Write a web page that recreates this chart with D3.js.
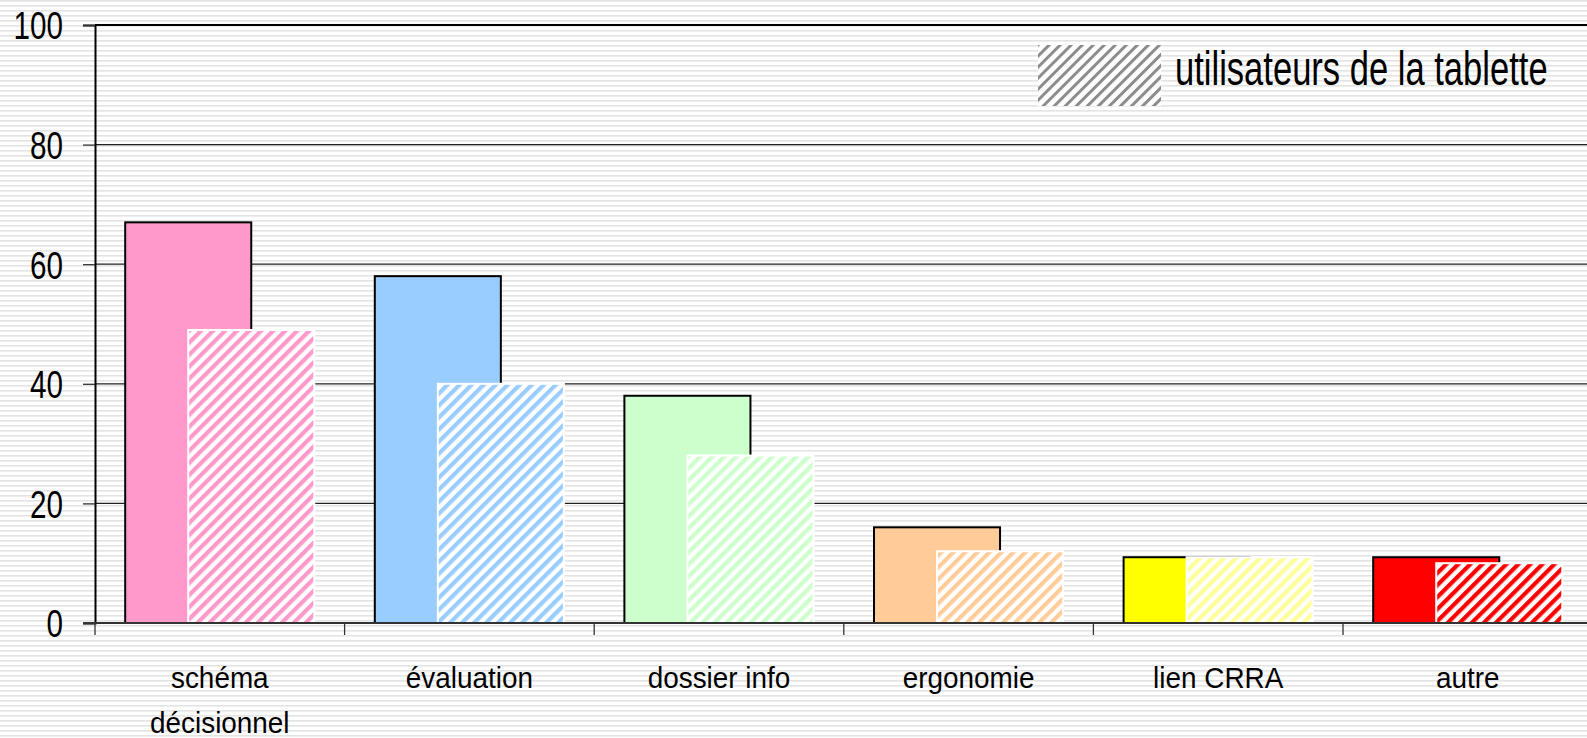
<html>
<head>
<meta charset="utf-8">
<style>
  body { margin: 0; background: #fff; }
  svg { display: block; }
  text { font-family: "Liberation Sans", Arial, sans-serif; fill: #000; }
</style>
</head>
<body>
<svg width="1587" height="738"></svg>
<script src="https://d3js.org/d3.v7.min.js"></script>
<script>

// categories (\n = line break in the axis label)
let categories = ["schéma\ndécisionnel", "évaluation", "dossier info", "ergonomie", "lien CRRA", "autre"]
let allValues = [67, 58, 38, 16, 11, 11]      // solid bars
let tabletValues = [49, 40, 28, 12, 11, 10]   // hatched bars: utilisateurs de la tablette
let barColors = ["#ff99cc", "#99ccff", "#ccffcc", "#ffcc99", "#ffff00", "#ff0000"]
let hatchColors = ["#ff99cc", "#99ccff", "#ccffcc", "#ffcc99", "#ffff99", "#ff0000"]
let yTicks = [0, 20, 40, 60, 80, 100]
let legendLabel = "utilisateurs de la tablette"

let width = 1587
let height = 738
let plot = {left: 95, top: 25, bottom: 623, band: 249.6}

let svg = d3.select("svg")
let defs = svg.append("defs")

// horizontal stripe background
let bg = defs.append("pattern")
    .attr("id", "bgstripes")
    .attr("patternUnits", "userSpaceOnUse")
    .attr("width", 10).attr("height", 5)
bg.append("rect").attr("width", 10).attr("height", 5).attr("fill", "#fff")
bg.append("rect").attr("y", 0).attr("width", 10).attr("height", 1.6).attr("fill", "#e4e4e4")

// diagonal hatch, one per colour
function hatch(id, color, size, stripe) {
    let p = defs.append("pattern")
        .attr("id", id)
        .attr("patternUnits", "userSpaceOnUse")
        .attr("width", size).attr("height", size)
        .attr("patternTransform", "rotate(45)")
    p.append("rect").attr("width", size).attr("height", size).attr("fill", "#fff")
    p.append("rect").attr("width", stripe).attr("height", size).attr("fill", color)
}
hatchColors.forEach((c, i) => hatch("hatch" + i, c, 8.5, 4.2))
hatch("hatchLegend", "#8c8c8c", 7.8, 3)

svg.append("rect").attr("width", width).attr("height", height).attr("fill", "url(#bgstripes)")

let x = d3.scaleBand()
    .domain(categories)
    .range([plot.left, plot.left + plot.band * categories.length])
    .padding(0)

let y = d3.scaleLinear()
    .domain([0, 100])
    .range([plot.bottom, plot.top])

let barW = x.bandwidth() * 0.505
let gap = x.bandwidth() * 0.121

// gridlines
svg.append("g")
    .selectAll("line")
    .data(yTicks.filter(d => d > 0))
    .join("line")
    .attr("x1", plot.left).attr("x2", width)
    .attr("y1", d => y(d)).attr("y2", d => y(d))
    .attr("stroke", d => d == 100 ? "#000" : "#222")
    .attr("stroke-width", d => d == 100 ? 2 : 1.2)

// y axis
let yAxis = svg.append("g")
    .attr("transform", `translate(${plot.left}, 0)`)
    .call(d3.axisLeft(y).tickValues(yTicks).tickSize(12).tickPadding(20))
yAxis.select(".domain").attr("stroke", "#000").attr("stroke-width", 2)
yAxis.selectAll(".tick line").attr("stroke", "#333").attr("stroke-width", 1.3)
yAxis.selectAll(".tick text")
    .attr("font-size", 38.5)
    .attr("font-family", null)
    .attr("x", 0)
    .attr("dy", "0.36em")
    .attr("transform", "translate(-32, 0) scale(0.77, 1)")

// solid bars
svg.append("g")
    .selectAll("rect")
    .data(categories)
    .join("rect")
    .attr("x", d => x(d) + gap)
    .attr("width", barW)
    .attr("y", (d, i) => y(allValues[i]))
    .attr("height", (d, i) => y(0) - y(allValues[i]))
    .attr("fill", (d, i) => barColors[i])
    .attr("stroke", "#000")
    .attr("stroke-width", 2)

// hatched bars
svg.append("g")
    .selectAll("rect")
    .data(categories)
    .join("rect")
    .attr("x", d => x(d) + gap + barW / 2)
    .attr("width", barW)
    .attr("y", (d, i) => y(tabletValues[i]))
    .attr("height", (d, i) => y(0) - y(tabletValues[i]))
    .attr("fill", (d, i) => `url(#hatch${i})`)
    .attr("stroke", "#fff")
    .attr("stroke-width", 2)

// x axis
let xAxis = svg.append("g")
    .attr("transform", `translate(0, ${y(0)})`)
xAxis.append("line")
    .attr("x1", plot.left - 12).attr("x2", width)
    .attr("stroke", "#333").attr("stroke-width", 2)
xAxis.selectAll(".xtick")
    .data(categories)
    .join("line")
    .attr("class", "xtick")
    .attr("x1", d => x(d)).attr("x2", d => x(d))
    .attr("y1", 0).attr("y2", 12)
    .attr("stroke", "#333").attr("stroke-width", 1.3)

let labels = svg.append("g")
    .selectAll("text")
    .data(categories)
    .join("text")
    .attr("text-anchor", "middle")
    .attr("font-size", 30)
    .attr("transform", d => `translate(${x(d) + x.bandwidth() / 2}, 688) scale(0.93, 1)`)
labels.selectAll("tspan")
    .data(d => d.split("\n"))
    .join("tspan")
    .attr("x", 0)
    .attr("dy", (d, i) => i == 0 ? 0 : 45)
    .text(d => d)

// legend
let legend = svg.append("g")
legend.append("rect")
    .attr("x", 1038).attr("y", 45)
    .attr("width", 123).attr("height", 61)
    .attr("fill", "url(#hatchLegend)")
legend.append("text")
    .attr("transform", "translate(1175, 85) scale(0.72, 1)")
    .attr("font-size", 48)
    .text(legendLabel)

</script>
</body>
</html>
